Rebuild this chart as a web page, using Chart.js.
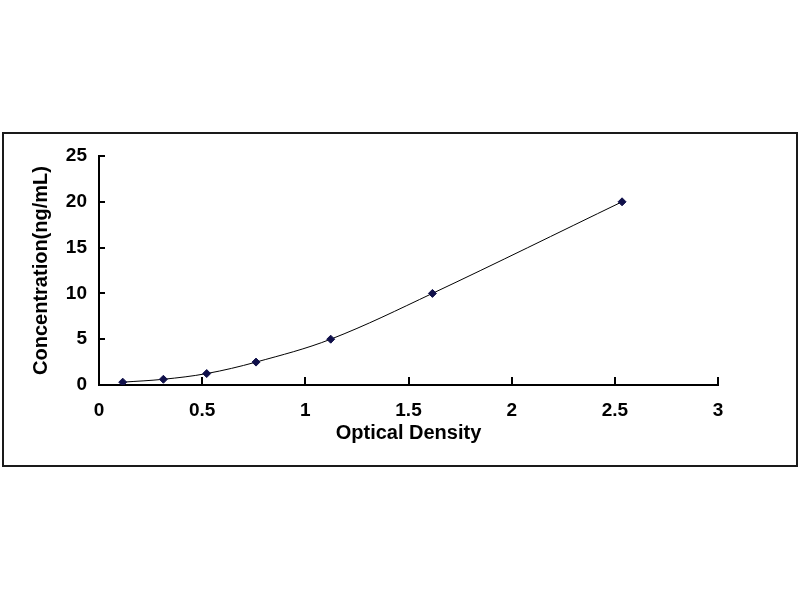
<!DOCTYPE html>
<html>
<head>
<meta charset="utf-8">
<title>Standard Curve</title>
<script src="https://cdn.jsdelivr.net/npm/chart.js@4.4.0/dist/chart.umd.min.js"></script>
<style>
  html, body { margin: 0; padding: 0; background: #fff; }
  canvas { display: block; }
</style>
</head>
<body>
<canvas id="curve" width="800" height="600"></canvas>
<script>
// Standard curve readings
const opticalDensity = [0.115, 0.312, 0.522, 0.761, 1.123, 1.616, 2.535];
const concentration = [0.31, 0.625, 1.25, 2.5, 5, 10, 20];

const xTitle = 'Optical Density';
const yTitle = 'Concentration(ng/mL)';

const fontFamily = '"Liberation Sans", Arial, sans-serif';

// White background and the outer frame round the chart
const framePlugin = {
    id: 'frame',
    beforeDraw(chart) {
        const ctx = chart.ctx;
        ctx.save();
        ctx.fillStyle = '#ffffff';
        ctx.fillRect(0, 0, chart.width, chart.height);
        ctx.strokeStyle = '#1a1a1a';
        ctx.lineWidth = 2;
        ctx.strokeRect(3, 133, 794, 333);
        ctx.restore();
    }
};

// plain numbers: 1 rather than 1.0
const plainTick = value => String(Number(value.toFixed(2)));

const ctx = document.getElementById('curve').getContext('2d');
new Chart(ctx, {
    type: 'scatter',
    data: {
        datasets: [{
            label: 'Standard',
            data: opticalDensity.map((od, i) => ({ x: od, y: concentration[i] })),
            showLine: true,
            tension: 0.35,
            borderColor: '#000000',
            borderWidth: 1,
            pointStyle: 'rectRot',
            pointRadius: 4,
            pointBackgroundColor: '#10104a',
            pointBorderColor: '#10104a',
            pointBorderWidth: 1
        }]
    },
    options: {
        responsive: false,
        animation: false,
        devicePixelRatio: 1,
        layout: {
            padding: { left: 0, top: 156, right: 82, bottom: 0 }
        },
        scales: {
            x: {
                type: 'linear',
                min: 0,
                max: 3,
                afterFit(scale) { scale.height = 215; },
                grid: {
                    drawOnChartArea: false,
                    tickLength: -8,
                    color: '#000000',
                    lineWidth: 2
                },
                border: { color: '#000000', width: 2 },
                ticks: {
                    stepSize: 0.5,
                    padding: 22,
                    color: '#000000',
                    callback: plainTick,
                    font: { family: fontFamily, size: 19, weight: 'bold' }
                },
                title: {
                    display: true,
                    text: xTitle,
                    color: '#000000',
                    padding: { top: 0, bottom: 155 },
                    font: { family: fontFamily, size: 20, weight: 'bold' }
                }
            },
            y: {
                type: 'linear',
                min: 0,
                max: 25,
                afterFit(scale) { scale.width = 99; },
                grid: {
                    drawOnChartArea: false,
                    tickLength: -6,
                    color: '#000000',
                    lineWidth: 2
                },
                border: { color: '#000000', width: 2 },
                ticks: {
                    stepSize: 5,
                    padding: 18,
                    color: '#000000',
                    callback: plainTick,
                    font: { family: fontFamily, size: 19, weight: 'bold' }
                },
                title: {
                    display: true,
                    text: yTitle,
                    color: '#000000',
                    padding: { top: 29, bottom: 0 },
                    font: { family: fontFamily, size: 20, weight: 'bold' }
                }
            }
        },
        plugins: {
            legend: { display: false },
            tooltip: { enabled: false }
        }
    },
    plugins: [framePlugin]
});
</script>
</body>
</html>
